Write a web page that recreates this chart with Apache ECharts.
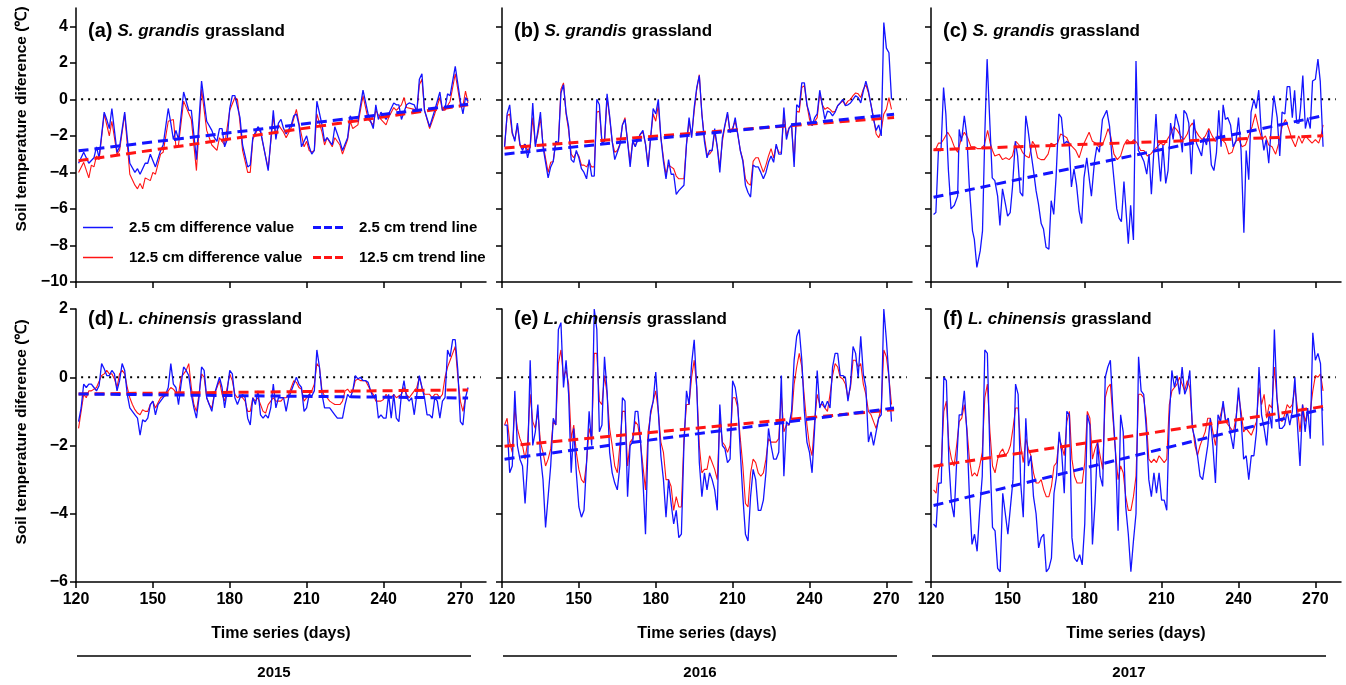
<!DOCTYPE html>
<html>
<head>
<meta charset="utf-8">
<script src="https://cdn.jsdelivr.net/npm/echarts@6/dist/echarts.min.js"></script>
<style>
  html, body { margin: 0; padding: 0; background: #fff; }
  #chart { width: 1346px; height: 685px; }
</style>
</head>
<body>
<div id="chart"></div>
<script>
const FONT = '"Liberation Sans", Arial, sans-serif';

// ---- tick labels / text ----
const xTicks = [120, 150, 180, 210, 240, 270];
const yTicksTop = [-10, -8, -6, -4, -2, 0, 2, 4];
const yTicksBottom = [-6, -4, -2, 0, 2];
const years = ["2015", "2016", "2017"];
const panelTags = ["(a)", "(b)", "(c)", "(d)", "(e)", "(f)"];
const panelSpecies = ["S. grandis", "S. grandis", "S. grandis", "L. chinensis", "L. chinensis", "L. chinensis"];
const zeroLine = [[122, 0], [278, 0]];

// ---- (a) S. grandis 2015 ----
const a25 = [[121,-3.5],[123,-2.9],[125,-3.5],[127,-3.2],[128,-2.6],[129,-3.2],[131,-0.7],[132,-1.1],[133,-1.6],[134,-0.5],[136,-2.9],[137,-2.6],[139,-0.7],[141,-3.5],[143,-4.0],[144,-3.8],[145,-4.1],[147,-3.5],[148,-3.5],[149,-3.0],[151,-3.7],[153,-2.8],[154,-2.5],[156,-0.5],[157,-1.3],[158,-2.2],[159,-1.7],[160,-2.2],[162,0.4],[164,-0.6],[165,-0.6],[167,-3.3],[169,1.0],[171,-1.2],[173,-1.7],[174,-2.1],[175,-2.3],[176,-1.6],[177,-1.6],[178,-2.6],[179,-2.2],[180,-0.5],[181,0.2],[182,0.2],[184,-1.0],[185,-2.5],[187,-3.7],[188,-3.6],[189,-2.1],[191,-1.5],[192,-1.7],[195,-3.9],[197,-0.6],[198,-2.2],[199,-1.3],[200,-1.1],[201,-1.6],[202,-1.9],[204,-1.4],[205,-0.9],[206,-0.8],[207,-1.4],[208,-2.6],[210,-2.0],[211,-2.6],[212,-3.0],[213,-2.8],[214,-0.1],[216,-1.4],[217,-2.3],[218,-2.1],[220,-2.5],[221,-1.5],[223,-2.3],[224,-2.8],[226,-2.1],[227,-0.9],[228,-1.2],[230,-1.2],[232,0.5],[234,-0.8],[236,-1.6],[237,-0.3],[238,-1.1],[239,-0.7],[241,-1.1],[242,-0.8],[244,-0.2],[245,-0.3],[246,-0.3],[247,-1.1],[249,-0.3],[250,-0.2],[252,-0.3],[253,-0.7],[254,1.1],[255,1.4],[256,-0.6],[258,-1.5],[260,-0.6],[262,0.4],[263,-0.6],[264,-0.5],[265,0.3],[266,0.2],[268,1.8],[270,-0.1],[271,-0.8],[272,0.1],[273,-0.1]];
const a125 = [[121,-4.0],[123,-3.45],[125,-4.3],[126,-3.6],[127,-3.7],[128,-3.1],[129,-3.3],[131,-0.8],[132,-1.4],[133,-2.0],[134,-1.2],[136,-3.0],[137,-2.8],[139,-0.8],[141,-4.1],[143,-4.7],[144,-4.9],[145,-4.6],[146,-4.9],[147,-4.3],[149,-4.45],[150,-4.0],[151,-4.1],[153,-3.0],[154,-2.9],[156,-1.2],[158,-1.1],[159,-2.6],[160,-2.5],[162,-0.1],[165,-1.1],[167,-3.9],[169,0.55],[171,-1.7],[173,-2.5],[175,-2.8],[176,-2.1],[178,-2.5],[180,-0.6],[182,0.1],[183,0],[184,-1.3],[185,-2.8],[187,-4.0],[188,-4.0],[189,-2.2],[191,-1.6],[192,-1.8],[195,-3.8],[197,-0.9],[198,-2.1],[199,-1.4],[201,-1.8],[202,-2.1],[204,-1.55],[206,-0.55],[207,-1.3],[209,-2.6],[210,-2.3],[211,-2.8],[212,-2.9],[213,-2.8],[214,-0.8],[216,-1.8],[217,-2.5],[218,-2.1],[220,-2.6],[221,-2.1],[223,-2.5],[224,-3.0],[226,-2.2],[227,-1.2],[228,-1.6],[230,-1.4],[232,0.2],[234,-1.1],[236,-1.4],[237,-0.6],[239,-1.1],[241,-1.4],[242,-1.0],[244,-0.45],[245,-0.6],[247,-0.3],[248,0.1],[249,-0.45],[252,-0.55],[253,-0.7],[254,0.8],[255,1.1],[256,-0.6],[258,-1.6],[260,-0.8],[262,0.1],[263,-0.6],[264,-0.6],[266,-0.1],[268,1.4],[270,-0.3],[271,-0.35],[272,0.45],[273,-0.2]];
const aTrend25 = [[121,-2.82],[273,-0.27]];
const aTrend125 = [[121,-3.36],[273,-0.3]];

// ---- (b) S. grandis 2016 ----
const b25 = [[121,-2.6],[122,-0.8],[123,-0.3],[124,-1.8],[125,-2.3],[126,-1.3],[127,-2.45],[128,-2.8],[129,-2.45],[130,-3.2],[131,-2.6],[132,-0.2],[133,-2.6],[134,-1.7],[135,-0.7],[136,-2.6],[138,-4.3],[139,-3.7],[140,-3.4],[141,-2.3],[142,-2.4],[143,0.35],[144,0.8],[145,-0.7],[146,-1.5],[147,-3.3],[148,-3.45],[149,-2.8],[150,-3.2],[151,-3.8],[152,-4.0],[153,-4.35],[154,-3.3],[155,-4.2],[156,-4.2],[157,0],[158,-0.3],[159,-2.4],[160,-2.3],[161,0.3],[162,-0.9],[163,-2.3],[164,-3.3],[165,-2.9],[166,-2.5],[167,-1.4],[168,-1.1],[169,-2.3],[170,-3.7],[171,-2.3],[172,-2.6],[173,-2.2],[174,-1.9],[175,-1.7],[176,-2.45],[177,-3.7],[178,-2.1],[179,-0.5],[180,-0.8],[181,0],[182,-2.1],[183,-3.4],[184,-4.35],[185,-3.3],[186,-4.1],[187,-4.1],[188,-5.2],[189,-5.0],[191,-4.7],[192,-2.45],[193,-1.0],[194,-2.1],[195,-0.45],[196,0.65],[197,1.3],[198,-0.8],[199,-2.3],[200,-3.2],[201,-2.8],[202,-2.8],[203,-1.6],[204,-2.6],[205,-4.0],[206,-2.1],[207,-1.4],[208,-0.7],[209,-1.8],[210,-1.7],[211,-1.0],[212,-1.9],[213,-2.8],[214,-3.4],[215,-4.7],[216,-5.1],[217,-5.35],[218,-3.6],[219,-3.7],[220,-3.7],[221,-4.0],[222,-4.35],[223,-4.0],[224,-3.45],[225,-3.1],[226,-3.45],[227,-2.45],[228,-3.0],[229,-3.0],[230,-0.45],[231,-2.2],[232,-1.6],[233,-1.4],[234,-3.7],[235,-0.3],[236,-0.45],[237,0.9],[238,0.9],[239,-0.3],[240,-0.8],[241,-1.45],[242,-1.0],[243,-0.8],[244,0.5],[245,-0.3],[246,-1.1],[247,-0.65],[248,-0.7],[249,-0.9],[250,-0.7],[251,-0.35],[252,-0.2],[253,0],[254,-0.35],[255,-0.3],[256,-0.2],[257,0],[258,0.2],[259,0.1],[260,-0.2],[261,0.45],[262,1.0],[263,0.45],[264,-0.3],[265,-1.1],[266,-1.7],[267,-1.4],[268,-2.0],[269,4.2],[270,2.8],[271,2.55],[272,0]];
const b125 = [[121,-2.55],[122,-0.9],[123,-0.8],[124,-1.9],[125,-2.2],[126,-1.4],[127,-2.55],[128,-2.55],[129,-2.45],[130,-2.8],[131,-2.6],[132,-1.0],[133,-2.45],[134,-1.9],[135,-1.0],[136,-2.45],[138,-4.0],[139,-3.45],[140,-3.4],[141,-2.3],[142,-2.4],[143,0.55],[144,0.9],[145,-0.8],[146,-1.7],[147,-3.0],[148,-3.2],[149,-2.9],[150,-3.1],[151,-3.6],[152,-3.6],[153,-3.7],[154,-3.45],[155,-3.7],[156,-3.7],[157,-0.7],[158,-0.65],[159,-2.3],[160,-2.3],[161,0.1],[162,-1.0],[163,-2.3],[164,-2.9],[165,-2.8],[166,-2.45],[167,-1.4],[168,-1.0],[169,-2.3],[170,-3.45],[171,-2.3],[172,-2.55],[173,-2.2],[174,-1.9],[175,-1.8],[176,-2.45],[177,-3.6],[178,-2.1],[179,-0.8],[180,-1.2],[181,-0.3],[182,-2.1],[183,-3.2],[184,-4.1],[185,-3.6],[186,-3.7],[187,-3.8],[188,-4.2],[189,-4.35],[191,-4.35],[192,-2.45],[193,-1.2],[194,-2.0],[195,-0.65],[196,0.55],[197,1.35],[198,-0.8],[199,-2.1],[200,-3.0],[201,-3.0],[202,-2.8],[203,-1.8],[204,-2.6],[205,-3.7],[206,-2.3],[207,-1.45],[208,-0.8],[209,-1.8],[210,-1.55],[211,-1.2],[212,-1.9],[213,-2.8],[214,-3.3],[215,-4.35],[216,-4.6],[217,-4.7],[218,-3.4],[219,-3.2],[220,-3.2],[221,-3.6],[222,-4.0],[223,-3.6],[224,-3.1],[225,-2.7],[226,-3.2],[227,-2.55],[228,-2.9],[229,-2.9],[230,-0.8],[231,-2.0],[232,-1.55],[233,-1.45],[234,-3.4],[235,-0.65],[236,-0.7],[237,0.65],[238,0.75],[239,-0.3],[240,-1.1],[241,-1.4],[242,-1.2],[243,-1.0],[244,0.3],[245,-0.3],[246,-0.55],[247,-0.45],[248,-0.55],[249,-0.7],[250,-0.65],[251,-0.35],[252,-0.2],[253,-0.1],[254,-0.3],[255,-0.1],[256,0],[257,0.2],[258,0.35],[259,0.3],[260,0.1],[261,0.55],[262,0.8],[263,0.35],[264,-0.3],[265,-1.0],[266,-1.9],[267,-2.1],[268,-1.7],[269,-0.8],[270,-0.55],[271,0.1],[272,-0.55]];
const bTrend25 = [[121,-3.0],[273,-0.82]];
const bTrend125 = [[121,-2.67],[273,-1.0]];

// ---- (c) S. grandis 2017 ----
const c25 = [[121.0,-6.3],[121.9,-6.2],[122.9,-2.8],[123.9,-2.8],[124.9,0.65],[125.8,-0.8],[126.8,-3.9],[127.8,-6.0],[129.1,-5.8],[130.4,-5.3],[131.0,-1.65],[131.9,-2.3],[133.0,-0.9],[134.0,-2.0],[134.9,-4.65],[136.2,-7.2],[136.9,-7.65],[137.9,-9.2],[139.2,-8.3],[140.1,-7.2],[141.0,-1.9],[141.9,2.2],[143.0,-1.4],[143.9,-4.3],[144.9,-4.45],[146.0,-5.3],[146.9,-6.9],[147.9,-4.9],[149.0,-5.7],[149.9,-6.4],[150.9,-6.2],[151.8,-4.8],[152.9,-2.3],[153.8,-3.1],[154.8,-5.1],[155.8,-5.3],[157.0,-0.9],[157.9,-1.7],[159.0,-2.9],[160.0,-3.9],[161.0,-5.0],[161.9,-5.7],[163.0,-6.8],[163.9,-7.1],[164.9,-8.1],[166.0,-8.2],[166.9,-5.55],[167.9,-6.3],[168.8,-4.3],[169.9,-0.8],[170.9,-1.0],[171.9,-2.45],[172.9,-2.3],[173.9,-2.4],[174.8,-4.8],[175.8,-3.8],[176.8,-4.7],[177.8,-6.1],[178.8,-6.8],[179.7,-4.3],[180.8,-3.2],[181.8,-4.4],[182.6,-5.3],[183.8,-3.4],[184.7,-2.6],[185.7,-2.9],[186.9,-1.1],[188.6,-0.6],[189.7,-1.5],[190.8,-3.5],[192.5,-6.0],[193.4,-6.5],[194.3,-6.7],[195.3,-4.5],[197.0,-7.9],[197.9,-5.8],[199.0,-7.7],[200.0,2.1],[200.9,-2.8],[201.8,-3.0],[203.1,-3.4],[204.2,-4.1],[205.1,-3.0],[206.0,-5.2],[207.8,-0.8],[208.6,-2.8],[209.6,-4.5],[210.5,-2.5],[211.6,-4.6],[212.5,-3.9],[213.5,-1.3],[214.5,-2.2],[215.5,-0.8],[216.8,-1.5],[218.1,-2.9],[218.7,-0.6],[219.7,-0.8],[220.6,-1.3],[221.6,-4.1],[222.6,-1.1],[223.6,-2.4],[224.5,-2.7],[225.6,-3.1],[226.5,-2.1],[227.5,-2.5],[228.4,-1.7],[229.4,-3.6],[230.4,-3.9],[231.4,-2.9],[232.3,-0.6],[233.2,-2.6],[234.0,-0.3],[234.9,-1.1],[235.8,-1.0],[236.9,-1.4],[237.9,-2.6],[239.0,-2.3],[240.0,-1.0],[241.0,-2.8],[242.1,-7.3],[243.0,-2.8],[244.0,-4.4],[244.9,-0.7],[246.0,0],[246.9,-0.5],[247.9,0.5],[248.8,-1.6],[249.9,-2.8],[250.8,-2.2],[251.8,-3.5],[252.9,-1.3],[253.8,0.2],[255.1,-1.0],[256.1,-3.1],[257.0,-0.7],[258.1,-0.8],[259.0,0.7],[260.0,0.7],[261.0,-1.0],[261.9,0.5],[262.7,-1.3],[263.6,-1.3],[264.2,-0.5],[265.1,1.3],[266.1,-1.6],[267.0,-1.0],[268.0,-1.6],[268.9,1.0],[270.0,1.1],[271.0,2.2],[271.9,1.0],[273.0,-2.6]];
const c125 = [[121.0,-2.8],[121.9,-2.7],[122.9,-2.4],[123.9,-2.4],[124.9,-2.2],[126.5,-1.8],[127.8,-2.1],[129.1,-2.6],[130.4,-2.9],[131.7,-2.2],[133.0,-1.8],[134.3,-2.1],[135.6,-2.6],[136.9,-2.6],[138.2,-2.7],[139.5,-2.7],[140.8,-2.5],[142.1,-1.7],[143.1,-2.4],[144.0,-2.8],[144.9,-3.1],[146.6,-3.0],[147.9,-3.3],[149.2,-3.2],[150.5,-3.3],[151.8,-3.1],[153.1,-2.3],[154.4,-2.5],[155.7,-2.9],[157.0,-3.1],[158.3,-3.2],[159.6,-2.3],[160.5,-2.5],[161.6,-3.2],[162.9,-3.3],[164.2,-3.3],[165.7,-3.0],[166.8,-2.4],[168.1,-2.5],[169.4,-2.4],[170.6,-1.9],[171.9,-2.0],[173.0,-2.1],[173.9,-2.4],[175.2,-2.6],[176.5,-2.8],[177.8,-3.2],[179.1,-2.6],[180.4,-2.2],[181.7,-1.8],[183.0,-2.3],[184.3,-2.4],[185.6,-2.6],[186.9,-2.5],[188.2,-2.0],[189.1,-1.6],[190.1,-2.0],[191.4,-3.0],[192.7,-3.3],[194.0,-3.1],[195.3,-2.5],[196.6,-2.2],[197.9,-2.4],[199.2,-2.2],[200.5,-2.4],[201.8,-2.8],[203.1,-2.8],[204.4,-3.1],[205.7,-3.0],[207.0,-2.8],[208.3,-2.6],[209.6,-2.4],[210.9,-2.5],[212.2,-2.2],[213.5,-1.9],[214.8,-1.5],[216.1,-1.7],[217.4,-2.0],[218.7,-2.2],[220.0,-1.9],[221.0,-1.5],[222.0,-1.3],[223.2,-1.7],[224.5,-2.0],[225.8,-2.2],[227.1,-2.0],[228.4,-1.6],[229.7,-2.0],[231.0,-2.3],[232.3,-2.0],[233.6,-2.2],[234.9,-2.4],[236.2,-3.0],[237.5,-2.9],[238.8,-2.3],[240.1,-2.2],[241.4,-2.6],[242.7,-2.5],[244.0,-2.0],[245.3,-1.5],[246.6,-0.8],[247.9,-1.6],[249.2,-2.2],[250.5,-2.0],[251.8,-2.5],[253.1,-2.6],[254.5,-3.0],[255.7,-2.4],[257.0,-1.5],[258.3,-1.1],[259.6,-1.6],[260.9,-2.2],[262.2,-2.6],[263.5,-2.0],[264.8,-2.4],[266.1,-2.0],[267.4,-2.2],[268.7,-2.4],[270.0,-2.2],[271.3,-2.4],[272.2,-2.0],[273.0,-1.4]];
const cTrend25 = [[121,-5.36],[273,-0.9]];
const cTrend125 = [[121,-2.76],[273,-2.0]];

// ---- (d) L. chinensis 2015 ----
const d25 = [[121,-1.3],[122,-0.9],[123,-0.2],[124,-0.3],[125,-0.2],[126,-0.2],[127,-0.3],[128,-0.4],[129,-0.25],[130,0.4],[131,0.25],[132,0.05],[133,0.05],[134,0.2],[135,0.1],[136,-0.4],[137,-0.1],[138,0.4],[139,0.2],[140,-0.5],[141,-0.9],[142,-1.0],[143,-1.1],[144,-1.2],[145,-1.7],[146,-1.25],[147,-1.3],[148,-1.2],[149,-0.8],[150,-0.7],[151,-1.1],[152,-0.8],[153,-0.7],[154,-0.6],[155,-0.5],[156,-0.3],[157,0.4],[158,-0.2],[159,-0.3],[160,-0.8],[161,-0.2],[162,0.3],[163,0.2],[164,0.05],[165,-0.5],[166,-0.9],[167,-1.2],[168,-0.6],[169,0.3],[170,0.2],[171,-0.6],[172,-0.8],[173,-1.0],[174,-0.5],[175,-0.25],[176,0],[177,-0.3],[178,-0.9],[179,-0.4],[180,0.2],[181,0.1],[182,-0.6],[183,-0.8],[184,-0.6],[185,-0.5],[186,-0.6],[187,-1.2],[188,-1.4],[189,-0.6],[190,-0.8],[191,-0.4],[192,-1.1],[193,-1.2],[194,-1.1],[195,-1.2],[196,-0.9],[197,-0.2],[198,-0.9],[199,-0.6],[200,-0.6],[201,-0.6],[202,-1.0],[203,-0.6],[204,-0.4],[205,-0.2],[206,0],[207,-0.2],[208,-0.3],[209,-1.0],[210,-0.9],[211,-0.5],[212,-0.55],[213,-0.4],[214,0.8],[215,0.3],[216,-0.5],[217,-0.9],[218,-0.9],[219,-0.9],[220,-1.0],[221,-1.1],[222,-1.2],[223,-1.2],[224,-1.2],[225,-0.8],[226,-0.5],[227,-0.6],[228,-0.4],[229,0.05],[230,-0.05],[231,0],[232,-0.1],[233,-0.1],[234,-0.15],[235,-0.4],[236,-0.6],[237,-0.5],[238,-1.2],[239,-1.1],[240,-1.2],[241,-1.2],[242,-0.5],[243,-1.2],[244,-0.5],[245,-1.2],[246,-1.3],[247,-0.5],[248,-0.1],[249,-0.6],[250,-0.7],[251,-0.6],[252,-1.1],[253,-0.5],[254,0.05],[255,-0.3],[256,-0.6],[257,-1.1],[258,-1.1],[259,-1.2],[260,-0.6],[261,-0.7],[262,-1.2],[263,-0.7],[264,-0.6],[265,0.8],[266,0.6],[267,1.1],[268,1.1],[269,0.2],[270,-1.3],[271,-1.4],[272,-0.6],[273,-0.3]];
const d125 = [[121,-1.5],[122,-1.0],[123,-0.5],[124,-0.6],[125,-0.4],[126,-0.4],[128,-0.3],[130,0.05],[131,0.1],[132,0.2],[133,0.1],[134,0.1],[135,-0.05],[136,-0.3],[137,0.1],[138,0.2],[139,0.1],[140,-0.3],[141,-0.6],[142,-0.8],[143,-0.95],[144,-1.05],[145,-1.1],[146,-0.95],[147,-1.0],[148,-1.0],[149,-0.8],[150,-0.7],[151,-0.9],[152,-0.75],[153,-0.6],[154,-0.55],[155,-0.55],[156,-0.4],[157,-0.3],[158,-0.35],[159,-0.45],[160,-0.5],[161,0],[162,0.1],[163,0.2],[164,0.4],[165,-0.3],[166,-0.8],[167,-1.0],[168,-0.5],[169,0.1],[170,0],[171,-0.6],[172,-0.8],[173,-0.9],[174,-0.5],[175,-0.3],[176,-0.1],[177,-0.5],[178,-0.7],[179,-0.3],[180,0.1],[181,-0.1],[182,-0.5],[183,-0.6],[184,-0.55],[185,-0.6],[186,-0.7],[187,-1.0],[188,-1.0],[189,-0.6],[190,-0.7],[191,-0.6],[192,-0.8],[193,-1.0],[194,-1.05],[195,-0.8],[196,-0.7],[197,-0.6],[198,-0.7],[199,-0.7],[200,-0.7],[201,-0.6],[202,-0.6],[203,-0.5],[204,-0.3],[205,-0.1],[206,-0.15],[207,-0.3],[208,-0.35],[209,-0.7],[210,-0.6],[211,-0.5],[212,-0.4],[213,-0.2],[214,0.4],[215,0.3],[216,-0.4],[217,-0.55],[218,-0.6],[219,-0.7],[220,-0.75],[221,-0.8],[222,-0.8],[223,-0.8],[224,-0.7],[225,-0.4],[226,-0.35],[227,-0.45],[228,-0.4],[229,-0.1],[230,-0.05],[231,-0.1],[232,-0.1],[233,-0.1],[234,-0.25],[235,-0.4],[236,-0.5],[237,-0.7],[238,-0.7],[239,-0.7],[240,-0.65],[241,-0.5],[242,-0.6],[243,-0.6],[244,-0.5],[245,-0.6],[246,-0.55],[247,-0.5],[248,-0.3],[249,-0.5],[250,-0.6],[251,-0.5],[252,-0.4],[253,-0.3],[254,0],[255,-0.3],[256,-0.5],[257,-0.5],[258,-0.5],[259,-0.6],[260,-0.5],[261,-0.5],[262,-0.6],[263,-0.5],[264,0],[265,0.3],[266,0.5],[267,0.7],[268,0.9],[269,0],[270,-0.7],[271,-1.0],[272,-0.6],[273,-0.6]];
const dTrend25 = [[121,-0.49],[273,-0.61]];
const dTrend125 = [[121,-0.49],[273,-0.37]];

// ---- (e) L. chinensis 2016 ----
const e25 = [[121,-1.4],[122,-1.4],[123,-2.8],[124,-2.6],[125,-0.4],[126,-2.0],[127,-2.4],[128,-2.6],[129,-3.7],[130,-2.5],[131,0.5],[132,-2.0],[133,-1.6],[134,-0.8],[135,-2.3],[136,-3.0],[137,-4.4],[138,-3.5],[139,-2.6],[140,-1.2],[141,-1.4],[142,1.4],[143,1.6],[144,-0.3],[145,0.5],[146,-0.5],[147,-2.8],[148,-1.5],[149,-2.8],[150,-3.8],[151,-4.1],[152,-3.9],[153,-2.5],[154,-1.0],[155,-2.0],[156,2.0],[157,1.4],[158,-1.6],[159,-1.4],[160,0.6],[161,-0.4],[162,-2.2],[163,-2.8],[164,-3.1],[165,-3.3],[166,-2.6],[167,-0.6],[168,-0.7],[169,-3.5],[170,-2.0],[171,-1.9],[172,-1.0],[173,-1.0],[174,-1.8],[175,-3.0],[176,-4.6],[177,-1.9],[178,-1.0],[179,-0.7],[180,0.15],[181,-1.0],[182,-2.3],[183,-3.0],[184,-4.1],[185,-3.0],[186,-3.7],[187,-4.3],[188,-3.9],[189,-4.7],[190,-4.6],[191,-2.0],[192,-0.4],[193,-0.8],[194,0.4],[195,1.1],[196,-0.3],[197,-2.5],[198,-3.5],[199,-2.8],[200,-3.3],[201,-2.8],[202,-3.0],[203,-3.3],[204,-3.9],[205,-0.8],[206,-2.0],[207,-2.1],[208,-2.5],[209,-2.4],[210,-0.1],[211,-0.3],[212,-0.8],[213,-2.2],[214,-3.5],[215,-4.6],[216,-4.8],[217,-3.5],[218,-2.7],[219,-3.0],[220,-3.9],[221,-3.9],[222,-3.6],[223,-2.8],[224,-1.5],[225,-2.0],[226,-2.4],[227,-2.4],[228,-2.2],[229,0.05],[230,-2.9],[231,-1.3],[232,-1.4],[233,-1.0],[234,0.5],[235,1.2],[236,1.4],[237,0.5],[238,-1.0],[239,-1.9],[240,-2.2],[241,-2.8],[242,-1.5],[243,0.2],[244,-0.9],[245,-0.7],[246,-0.9],[247,-0.7],[248,-0.9],[249,0.3],[250,0.7],[251,0.7],[252,0.05],[253,0.05],[254,0],[255,-0.7],[256,-0.2],[257,0.9],[258,0.7],[259,0],[260,1.2],[261,0.1],[262,-0.3],[263,-1.9],[264,-1.6],[265,-2.0],[266,-1.6],[267,-1.2],[268,-1.1],[269,2.0],[270,1.1],[271,0],[272,-1.3]];
const e125 = [[121,-1.4],[122,-1.2],[123,-1.9],[124,-2.2],[125,-0.9],[126,-1.5],[127,-1.8],[128,-2.0],[129,-2.4],[130,-1.9],[131,-0.5],[132,-1.3],[133,-1.5],[134,-1.0],[135,-1.9],[136,-2.2],[137,-2.6],[138,-2.4],[139,-2.1],[140,-1.3],[141,-1.4],[142,0.4],[143,0.8],[144,0],[145,0.2],[146,-0.2],[147,-1.8],[148,-1.4],[149,-2.2],[150,-2.7],[151,-3.0],[152,-3.1],[153,-2.5],[154,-1.5],[155,-1.8],[156,0.7],[157,0.7],[158,-0.7],[159,-0.8],[160,0.05],[161,-0.5],[162,-1.5],[163,-2.0],[164,-2.6],[165,-2.8],[166,-2.0],[167,-1.0],[168,-1.0],[169,-2.6],[170,-1.9],[171,-1.8],[172,-1.3],[173,-1.4],[174,-1.9],[175,-2.6],[176,-3.3],[177,-1.6],[178,-1.1],[179,-0.7],[180,-0.4],[181,-1.0],[182,-1.9],[183,-2.2],[184,-3.0],[185,-3.0],[186,-3.2],[187,-3.9],[188,-3.5],[189,-3.8],[190,-3.8],[191,-1.8],[192,-0.8],[193,-0.8],[194,0],[195,0.5],[196,-0.3],[197,-2.0],[198,-2.8],[199,-2.7],[200,-2.7],[201,-2.3],[202,-2.5],[203,-2.7],[204,-3.0],[205,-1.2],[206,-1.9],[207,-2.0],[208,-2.2],[209,-2.0],[210,-0.6],[211,-0.6],[212,-0.9],[213,-1.8],[214,-2.6],[215,-3.7],[216,-3.8],[217,-2.8],[218,-2.4],[219,-2.5],[220,-2.8],[221,-2.9],[222,-2.8],[223,-2.4],[224,-1.8],[225,-1.9],[226,-1.9],[227,-1.9],[228,-1.8],[229,-0.5],[230,-1.6],[231,-1.4],[232,-1.4],[233,-1.2],[234,-0.2],[235,0.3],[236,0.7],[237,0.3],[238,-0.6],[239,-1.4],[240,-2.0],[241,-2.3],[242,-1.3],[243,-0.5],[244,-0.8],[245,-0.8],[246,-0.9],[247,-1.0],[248,-0.5],[249,0.05],[250,0.4],[251,0.3],[252,0],[253,-0.05],[254,-0.2],[255,-0.6],[256,-0.3],[257,0.5],[258,0.5],[259,0.3],[260,0.4],[261,-0.2],[262,-0.5],[263,-1.0],[264,-1.1],[265,-1.3],[266,-1.5],[267,-1.2],[268,-0.9],[269,0.8],[270,0.6],[271,0],[272,-0.8]];
const eTrend25 = [[121,-2.4],[273,-0.9]];
const eTrend125 = [[121,-2.02],[273,-0.95]];

// ---- (f) L. chinensis 2017 ----
const f25 = [[121,-4.3],[122,-4.4],[123,-3.1],[124,-3.1],[125,0],[126,-0.1],[127,-2.5],[128,-3.7],[129,-4.1],[130,-2.5],[131,-1.1],[132,-1.1],[133,-0.4],[134,-1.6],[135,-3.5],[136,-4.9],[137,-4.6],[138,-5.1],[139,-3.9],[140,-2.9],[141,0.8],[142,0.7],[143,-2.3],[144,-4.4],[145,-4.5],[146,-5.6],[147,-5.7],[148,-3.4],[149,-4.0],[150,-4.6],[151,-3.8],[152,-3.0],[153,-0.2],[154,-0.5],[155,-3.1],[156,-4.1],[157,-1.2],[158,-2.6],[159,-2.3],[160,-3.5],[161,-4.0],[162,-5.0],[163,-4.7],[164,-4.6],[165,-5.7],[166,-5.6],[167,-5.3],[168,-3.4],[169,-2.9],[170,-1.6],[171,-2.2],[172,-3.4],[173,-1.0],[174,-1.1],[175,-4.7],[176,-5.3],[177,-5.4],[178,-5.2],[179,-5.5],[180,-4.3],[181,-1.1],[182,-1.4],[183,-4.9],[184,-3.7],[185,-1.9],[186,-2.9],[187,-3.2],[188,0],[189,0.3],[190,0.5],[191,-1.0],[192,-2.2],[193,-4.5],[194,-1.1],[195,-1.6],[196,-3.8],[197,-4.6],[198,-5.7],[199,-4.8],[200,-4.0],[201,0.6],[202,-0.4],[203,-0.5],[204,-1.5],[205,-3.0],[206,-3.5],[207,-2.8],[208,-3.4],[209,-2.8],[210,-3.6],[211,-3.6],[212,-3.9],[213,-1.2],[214,0.2],[215,-0.3],[216,0.05],[217,-0.5],[218,0.3],[219,-0.5],[220,-0.3],[221,0.2],[222,-1.5],[223,-1.8],[224,-2.3],[225,-2.9],[226,-3.0],[227,-2.5],[228,-2.0],[229,-1.2],[230,-2.0],[231,-3.1],[232,-1.1],[233,-1.3],[234,-0.7],[235,-1.3],[236,-1.2],[237,-1.7],[238,-2.1],[239,-1.3],[240,-0.3],[241,-1.2],[242,-2.4],[243,-2.3],[244,-3.0],[245,-2.3],[246,-2.3],[247,-1.6],[248,0.3],[249,-1.1],[250,-1.5],[251,-2.0],[252,-1.0],[253,-1.5],[254,1.4],[255,-0.6],[256,-1.5],[257,-1.5],[258,-1.4],[259,-1.0],[260,-1.4],[261,-1.0],[262,0],[263,-1.4],[264,-2.6],[265,-0.8],[266,-1.6],[267,-0.9],[268,-1.8],[269,1.3],[270,0.5],[271,0.7],[272,0.4],[273,-2.0]];
const f125 = [[121,-3.3],[122,-3.4],[123,-2.7],[124,-2.5],[125,-1.0],[126,-0.7],[127,-2.0],[128,-2.4],[129,-2.6],[130,-2.0],[131,-1.3],[132,-1.2],[133,-0.8],[134,-1.5],[135,-2.4],[136,-2.9],[137,-2.8],[138,-2.9],[139,-2.6],[140,-2.2],[141,-0.6],[142,-0.2],[143,-1.6],[144,-2.6],[145,-2.8],[146,-2.4],[147,-2.2],[148,-2.1],[149,-2.3],[150,-2.2],[151,-2.0],[152,-1.5],[153,-0.9],[154,-0.9],[155,-2.0],[156,-2.5],[157,-1.8],[158,-2.1],[159,-2.3],[160,-2.8],[161,-3.1],[162,-3.1],[163,-3.0],[164,-3.3],[165,-3.5],[166,-3.5],[167,-3.2],[168,-2.6],[169,-2.5],[170,-1.8],[171,-2.0],[172,-2.3],[173,-1.3],[174,-1.0],[175,-2.4],[176,-2.9],[177,-3.1],[178,-3.1],[179,-3.1],[180,-2.5],[181,-1.0],[182,-1.2],[183,-2.4],[184,-2.1],[185,-1.9],[186,-2.3],[187,-2.7],[188,-0.6],[189,-0.3],[190,-0.2],[191,-1.2],[192,-2.2],[193,-3.0],[194,-2.6],[195,-2.8],[196,-3.5],[197,-3.9],[198,-3.9],[199,-3.5],[200,-2.9],[201,-0.5],[202,-0.5],[203,-0.6],[204,-1.2],[205,-2.4],[206,-2.5],[207,-2.4],[208,-2.5],[209,-2.3],[210,-2.4],[211,-2.5],[212,-2.4],[213,-0.8],[214,-0.4],[215,-0.3],[216,-0.2],[217,0],[218,-0.2],[219,-0.4],[220,-0.1],[221,-0.3],[222,-1.4],[223,-2.0],[224,-2.3],[225,-2.0],[226,-1.8],[227,-1.6],[228,-1.2],[229,-1.2],[230,-1.6],[231,-2.0],[232,-1.4],[233,-1.1],[234,-0.8],[235,-1.3],[236,-1.4],[237,-1.5],[238,-1.6],[239,-1.2],[240,-0.5],[241,-1.0],[242,-1.6],[243,-1.5],[244,-1.6],[245,-1.7],[246,-1.5],[247,-1.3],[248,-0.3],[249,-0.8],[250,-0.5],[251,-1.2],[252,-0.8],[253,-0.9],[254,0.3],[255,-0.6],[256,-1.2],[257,-1.3],[258,-1.1],[259,-0.8],[260,-0.9],[261,-0.8],[262,-0.3],[263,-0.9],[264,-1.6],[265,-0.8],[266,-1.3],[267,-1.0],[268,-1.0],[269,-0.4],[270,0.05],[271,0],[272,0.1],[273,-0.4]];
const fTrend25 = [[121,-3.76],[273,-0.93]];
const fTrend125 = [[121,-2.61],[273,-0.86]];

const diff25 = [a25, b25, c25, d25, e25, f25];
const diff125 = [a125, b125, c125, d125, e125, f125];
const trend25 = [aTrend25, bTrend25, cTrend25, dTrend25, eTrend25, fTrend25];
const trend125 = [aTrend125, bTrend125, cTrend125, dTrend125, eTrend125, fTrend125];

const BLUE = "#1414ff";
const RED = "#ff1414";
const NAME_25 = "2.5 cm difference value";
const NAME_125 = "12.5 cm difference value";
const NAME_T25 = "2.5 cm trend line";
const NAME_T125 = "12.5 cm trend line";
const Y_NAME = "Soil temperature diference (\u2103)";

const colLeft = [76, 502, 931];
const plotW = 410;

const chart = echarts.init(document.getElementById("chart"));

const grid = [], xAxis = [], yAxis = [], series = [], title = [];

for (let i = 0; i < 6; i++) {
  const top = i < 3;
  const col = i % 3;
  grid.push({
    left: colLeft[col],
    width: plotW,
    top: top ? 8 : 309,
    height: top ? 274 : 273,
  });

  xAxis.push({
    type: "value",
    gridIndex: i,
    min: 120,
    max: 280,
    splitLine: { show: false },
    axisLine: { onZero: false, lineStyle: { color: "#000", width: 1.5 } },
    axisTick: { show: true, length: 6, customValues: xTicks, lineStyle: { color: "#000", width: 1.5 } },
    axisLabel: {
      show: !top,
      customValues: xTicks,
      margin: 10,
      color: "#000",
      fontSize: 16,
      fontWeight: "bold",
      fontFamily: FONT,
    },
    name: top ? "" : "Time series (days)",
    nameLocation: "middle",
    nameGap: 44,
    nameTextStyle: { color: "#000", fontSize: 16, fontWeight: "bold", fontFamily: FONT },
  });

  const yt = top ? yTicksTop : yTicksBottom;
  yAxis.push({
    type: "value",
    gridIndex: i,
    min: top ? -10 : -6,
    max: top ? 5 : 2,
    splitLine: { show: false },
    axisLine: { show: true, onZero: false, lineStyle: { color: "#000", width: 1.5 } },
    axisTick: { show: true, length: 6, customValues: yt, lineStyle: { color: "#000", width: 1.5 } },
    axisLabel: {
      show: col === 0,
      customValues: yt,
      margin: 8,
      color: "#000",
      fontSize: 16,
      fontWeight: "bold",
      fontFamily: FONT,
      formatter: (v) => String(v).replace("-", "\u2212"),
    },
  });

  title.push({
    left: colLeft[col] + 12,
    top: top ? 21 : 309,
    padding: 0,
    text: "{t|" + panelTags[i] + "} {s|" + panelSpecies[i] + "} {g|grassland}",
    textStyle: {
      rich: {
        t: { fontSize: 20, fontWeight: "bold", fontFamily: FONT, color: "#000" },
        s: { fontSize: 17, fontWeight: "bold", fontStyle: "italic", fontFamily: FONT, color: "#000" },
        g: { fontSize: 17, fontWeight: "bold", fontFamily: FONT, color: "#000" },
      },
    },
  });

  const common = { xAxisIndex: i, yAxisIndex: i, type: "line", symbol: "none", animation: false };
  series.push({ ...common, name: "zero", data: zeroLine, z: 1,
    lineStyle: { color: "#000", width: 2, type: [2, 5] } });
  series.push({ ...common, name: NAME_125, data: diff125[i], z: 2,
    lineStyle: { color: RED, width: 1.1 }, itemStyle: { color: RED } });
  series.push({ ...common, name: NAME_25, data: diff25[i], z: 3,
    lineStyle: { color: BLUE, width: 1.3 }, itemStyle: { color: BLUE } });
  series.push({ ...common, name: NAME_T125, data: trend125[i], z: 4,
    lineStyle: { color: RED, width: 3, type: [10, 6] }, itemStyle: { color: RED } });
  series.push({ ...common, name: NAME_T25, data: trend25[i], z: 5,
    lineStyle: { color: BLUE, width: 3, type: [10, 6] }, itemStyle: { color: BLUE } });
}

// legend: one component per entry so each row sits where it should
const legendText = { color: "#000", fontSize: 15, fontWeight: "bold", fontFamily: FONT, padding: [0, 0, 0, 11] };
const DASH_ICON = "path://M0,0h8v3h-8z M11,0h8v3h-8z M22,0h8v3h-8z";
function legendRow(name, left, top, dashed) {
  return {
    data: [{ name: name, icon: dashed ? DASH_ICON : "rect" }],
    left: left, top: top, padding: 0,
    itemWidth: 30, itemHeight: dashed ? 3 : 1.5,
    textStyle: legendText, selectedMode: false,
  };
}

const graphic = [];
years.forEach((y, k) => {
  const x1 = colLeft[k] + 1;
  const x2 = colLeft[k] + 395;
  graphic.push({ type: "line", shape: { x1: x1, y1: 656, x2: x2, y2: 656 }, style: { stroke: "#000", lineWidth: 1.3 } });
  graphic.push({
    type: "text",
    style: {
      text: y, x: (x1 + x2) / 2, y: 673,
      textAlign: "center", textVerticalAlign: "middle",
      font: 'bold 15px "Liberation Sans", Arial, sans-serif', fill: "#000",
    },
  });
});
[119, 432].forEach((cy) => {
  graphic.push({
    type: "text",
    x: 22, y: cy, rotation: Math.PI / 2,
    style: {
      text: Y_NAME, x: 0, y: 0,
      textAlign: "center", textVerticalAlign: "middle",
      font: 'bold 15.5px "Liberation Sans", Arial, sans-serif', fill: "#000",
    },
  });
});

chart.setOption({
  backgroundColor: "#fff",
  animation: false,
  title: title,
  grid: grid,
  xAxis: xAxis,
  yAxis: yAxis,
  legend: [
    legendRow(NAME_25, 83, 220, false),
    legendRow(NAME_125, 83, 250, false),
    legendRow(NAME_T25, 313, 220, true),
    legendRow(NAME_T125, 313, 250, true),
  ],
  series: series,
  graphic: graphic,
});
</script>
</body>
</html>
